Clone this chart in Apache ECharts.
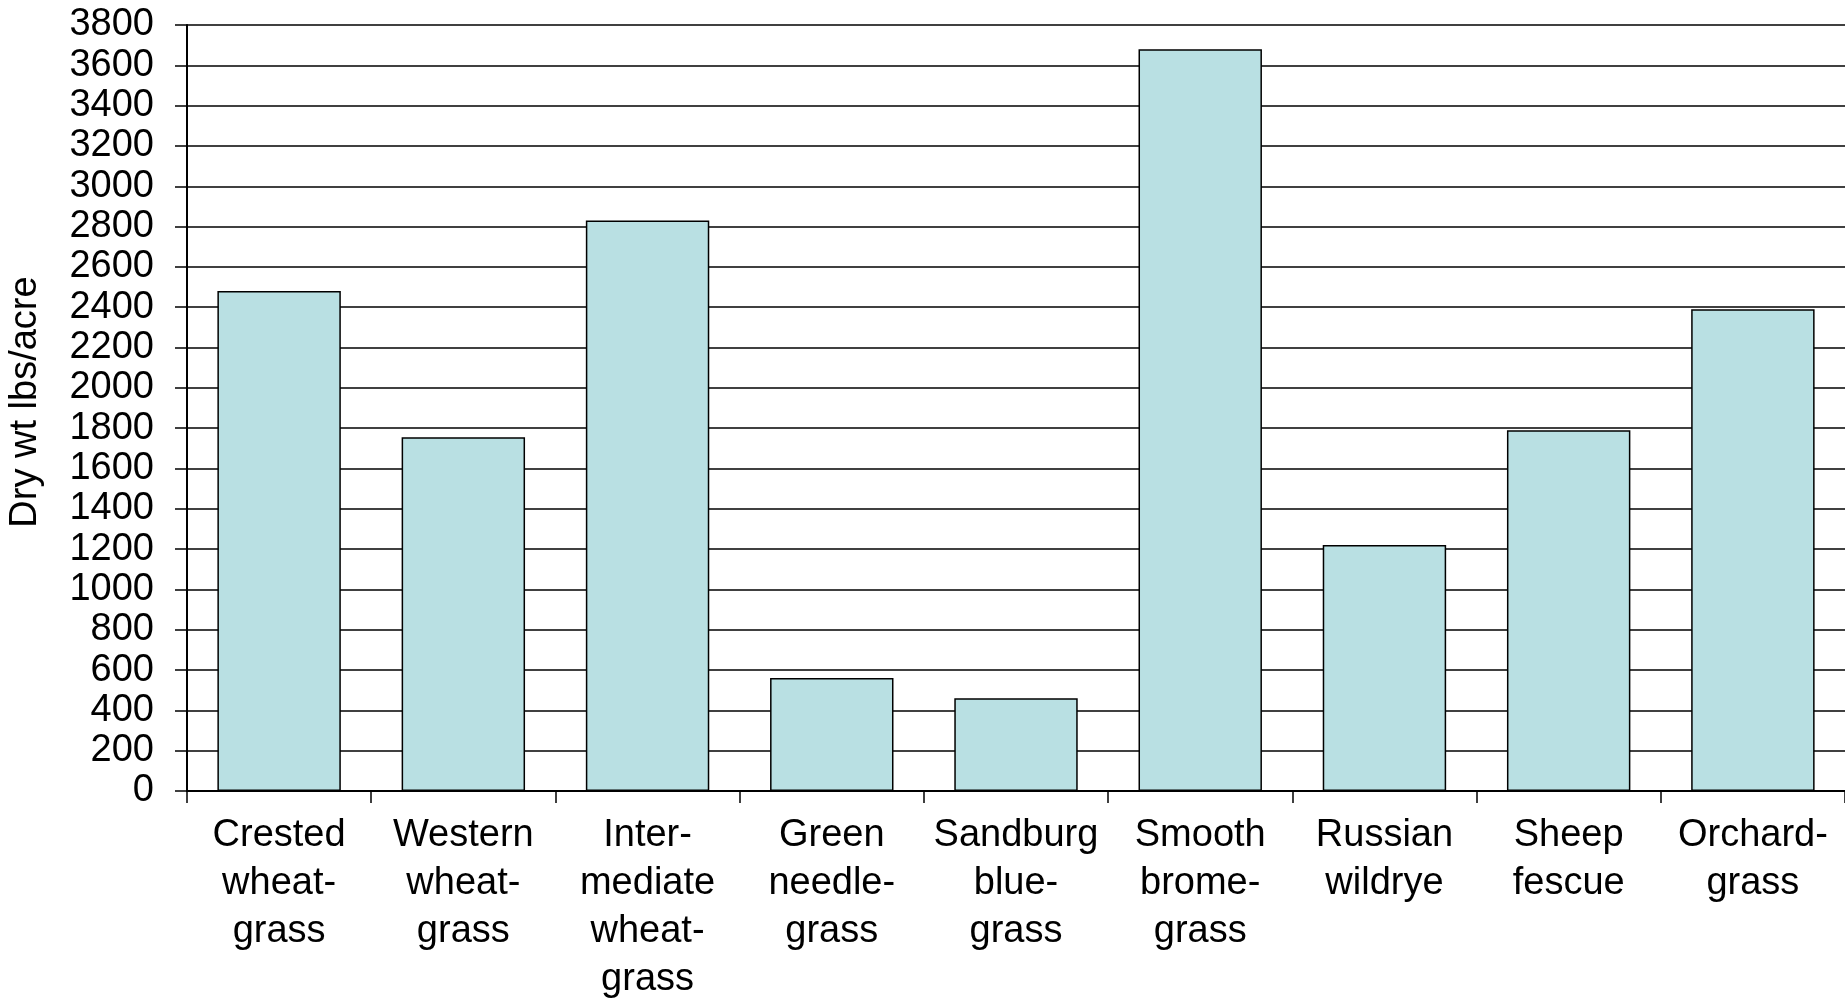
<!DOCTYPE html>
<html>
<head>
<meta charset="utf-8">
<script src="https://cdn.jsdelivr.net/npm/echarts@6/dist/echarts.min.js"></script>
<style>
html,body{margin:0;padding:0;background:#fff;}
#chart{width:1845px;height:998px;}
</style>
</head>
<body>
<div id="chart"></div>
<script>
const categories = [
  "Crested\nwheat-\ngrass",
  "Western\nwheat-\ngrass",
  "Inter-\nmediate\nwheat-\ngrass",
  "Green\nneedle-\ngrass",
  "Sandburg\nblue-\ngrass",
  "Smooth\nbrome-\ngrass",
  "Russian\nwildrye",
  "Sheep\nfescue",
  "Orchard-\ngrass"
];
const dryWeight = [2480, 1755, 2830, 560, 460, 3680, 1220, 1790, 2390];
const yAxisTitle = "Dry wt lbs/acre";

const chart = echarts.init(document.getElementById('chart'));
const font = '"Liberation Sans", Arial, sans-serif';
chart.setOption({
  animation: false,
  backgroundColor: '#ffffff',
  grid: {left: 187, top: 25, right: 0, bottom: 207, containLabel: false, outerBoundsMode: 'none'},
  xAxis: {
    type: 'category',
    data: categories,
    axisLine: {lineStyle: {color: '#000', width: 2}},
    axisTick: {show: true, length: 12, lineStyle: {color: '#000', width: 1.5}},
    axisLabel: {interval: 0, margin: 21, color: '#000', fontSize: 38, lineHeight: 48, fontFamily: font}
  },
  yAxis: {
    type: 'value',
    min: 0, max: 3800, interval: 200,
    name: yAxisTitle,
    nameLocation: 'middle',
    nameGap: 142,
    nameTextStyle: {color: '#000', fontSize: 38, fontFamily: font, padding: [0, 0, 0, 12]},
    axisLine: {show: true, lineStyle: {color: '#000', width: 2}},
    axisTick: {show: true, length: 12, lineStyle: {color: '#000', width: 1.5}},
    axisLabel: {margin: 33, color: '#000', fontSize: 38, fontFamily: font, formatter: function (v) { return String(v); }},
    splitLine: {show: true, lineStyle: {color: '#000', width: 1.5}}
  },
  series: [{
    type: 'bar',
    data: dryWeight,
    barCategoryGap: '33%',
    itemStyle: {color: '#B9E0E3', borderColor: '#000', borderWidth: 1.5}
  }]
});
</script>
</body>
</html>
